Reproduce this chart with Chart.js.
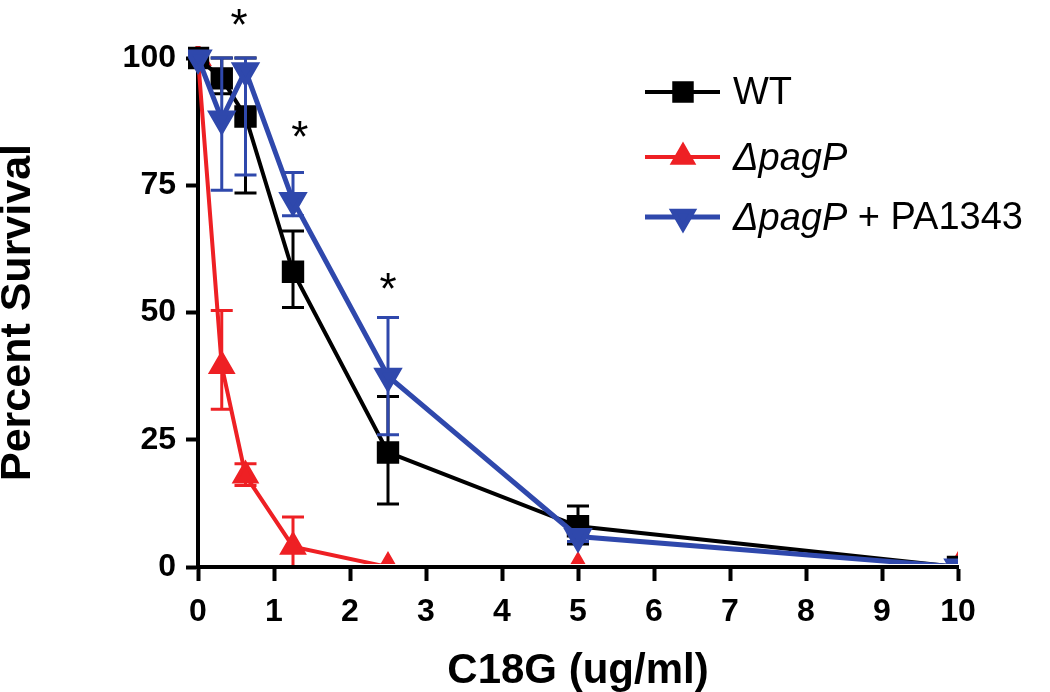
<html>
<head>
	<script src="https://cdn.jsdelivr.net/npm/chart.js@4.4.1/dist/chart.umd.min.js"></script>
	<style>
		body { margin: 0; background: #fff; }
	</style>
</head>
<body>
	<canvas id="myChart" width="1050" height="692"></canvas>
</body>
<script>

// doses of C18G (ug/ml)
const doses = [0, 0.3125, 0.625, 1.25, 2.5, 5, 10];

// WT
const wtMean = [100, 96, 88.5, 58, 22.5, 8, 0];
const wtHi   = [100, 100, 100, 66, 33.5, 12, 0];
const wtLo   = [100, 93, 73.5, 51, 12.4, 4.5, 0];

// delta pagP
const pagMean = [100, 39.5, 18, 4, 0, 0, 0];
const pagHi   = [100, 50.4, 20.3, 9.8, 0, 0, 0];
const pagLo   = [100, 31, 16, 0, 0, 0, 0];

// delta pagP + PA1343
const compMean = [100, 88, 97.5, 72, 37.5, 6, 0];
const compHi   = [100, 100, 100, 77.5, 49, 7, 0];
const compLo   = [100, 74, 77, 69, 26, 5, 0];

// significance stars (x in ug/ml, y in percent)
const starX = [0.54, 1.34, 2.5];
const starY = [108.4, 86.4, 56.6];

const yTicks = [0, 25, 50, 75, 100];

const FONT = '"Liberation Sans", Arial, sans-serif';
Chart.defaults.font.family = FONT;
Chart.defaults.color = '#000';

function pts(ys) {
  return doses.map((d, i) => ({x: d, y: ys[i]}));
}

const markClip = {left: 10, top: 12, right: 0, bottom: -3};

const data = {
  datasets: [
    {
      label: 'ΔpagP + PA1343',
      data: pts(compMean),
      errHi: compHi, errLo: compLo,
      borderColor: 'rgb(47, 72, 172)',
      backgroundColor: 'rgb(47, 72, 172)',
      borderWidth: 5,
      pointStyle: 'triangle',
      pointRotation: 180,
      pointRadius: 12,
      clip: markClip,
      order: 0
    },
    {
      label: 'WT',
      data: pts(wtMean),
      errHi: wtHi, errLo: wtLo,
      borderColor: '#000',
      backgroundColor: '#000',
      borderWidth: 4,
      pointStyle: 'rect',
      pointRadius: 13,
      clip: markClip,
      order: 1
    },
    {
      label: 'ΔpagP',
      data: pts(pagMean),
      errHi: pagHi, errLo: pagLo,
      borderColor: 'rgb(238, 32, 36)',
      backgroundColor: 'rgb(238, 32, 36)',
      borderWidth: 4,
      pointStyle: 'triangle',
      pointRadius: 12,
      clip: markClip,
      order: 2
    }
  ]
};

// legend rows: dataset index + text pieces [text, italic]
const legendOrder = [1, 2, 0];
const legendText = [
  [['WT', false]],
  [['ΔpagP', true]],
  [['ΔpagP', true], [' + PA1343', false]]
];

const errorBars = {
  id: 'errorBars',
  beforeDatasetDraw(chart, args) {
    const ds = chart.data.datasets[args.index];
    const ctx = chart.ctx, xs = chart.scales.x, ys = chart.scales.y;
    ctx.save();
    ctx.strokeStyle = ds.borderColor;
    ctx.lineWidth = 3;
    ds.data.forEach((p, i) => {
      const px = xs.getPixelForValue(p.x);
      const hi = ys.getPixelForValue(ds.errHi[i]);
      const lo = ys.getPixelForValue(ds.errLo[i]);
      if (Math.abs(hi - lo) < 1) return;
      ctx.beginPath();
      ctx.moveTo(px, hi); ctx.lineTo(px, lo);
      ctx.moveTo(px - 11, hi); ctx.lineTo(px + 11, hi);
      if (ds.errLo[i] > 0) { ctx.moveTo(px - 11, lo); ctx.lineTo(px + 11, lo); }
      ctx.stroke();
    });
    ctx.restore();
  }
};

const extras = {
  id: 'extras',
  afterDraw(chart) {
    const ctx = chart.ctx, xs = chart.scales.x, ys = chart.scales.y;
    ctx.save();
    // stars
    ctx.fillStyle = '#000';
    ctx.font = '44px ' + FONT;
    ctx.textAlign = 'center';
    ctx.textBaseline = 'alphabetic';
    starX.forEach((sx, i) => {
      ctx.fillText('*', xs.getPixelForValue(sx), ys.getPixelForValue(starY[i]) + 25);
    });
    // legend
    const rows = [92, 157, 217];
    ctx.textAlign = 'left';
    ctx.textBaseline = 'middle';
    legendOrder.forEach((di, r) => {
      const ds = chart.data.datasets[di];
      const y = rows[r];
      ctx.strokeStyle = ds.borderColor;
      ctx.fillStyle = ds.backgroundColor;
      ctx.lineWidth = ds.borderWidth;
      ctx.beginPath(); ctx.moveTo(645, y); ctx.lineTo(720, y); ctx.stroke();
      Chart.helpers.drawPoint(ctx, {pointStyle: ds.pointStyle, rotation: ds.pointRotation || 0,
        radius: ds.pointRadius * 0.95, borderWidth: 1}, 683, y);
      let x = 733;
      ctx.fillStyle = '#000';
      legendText[r].forEach(([t, it]) => {
        ctx.font = (it ? 'italic ' : '') + '38px ' + FONT;
        ctx.fillText(t, x, y + 2);
        x += ctx.measureText(t).width;
      });
    });
    ctx.restore();
  }
};

const axisFont = {size: 32, weight: 'bold'};

const config = {
  type: 'scatter',
  data: data,
  options: {
    responsive: false,
    animation: false,
    showLine: true,
    layout: { padding: {top: 58, right: 92, left: 0, bottom: 0} },
    plugins: {
      legend: { display: false },
      tooltip: { enabled: false }
    },
    scales: {
      x: {
        type: 'linear', min: 0, max: 10,
        ticks: { stepSize: 1, font: axisFont, color: '#000', padding: 12 },
        grid: { drawOnChartArea: false, tickLength: 14, tickWidth: 4, color: '#000', tickColor: '#000' },
        border: { color: '#000', width: 4, z: 1 },
        title: { display: true, text: 'C18G (ug/ml)', color: '#000',
          font: {size: 42, weight: 'bold', lineHeight: 1.0}, padding: 0 },
        afterFit(s) { s.height = 692 - 567; }
      },
      y: {
        min: 0, max: 100,
        afterBuildTicks(s) { s.ticks = yTicks.map(v => ({value: v})); },
        ticks: { font: axisFont, color: '#000', padding: 10 },
        grid: { drawOnChartArea: false, tickLength: 12, tickWidth: 4, color: '#000', tickColor: '#000' },
        border: { color: '#000', width: 4 },
        title: { display: true, text: 'Percent Survival', color: '#000',
          font: {size: 43, weight: 'bold', lineHeight: 0.85}, padding: 0 },
        afterFit(s) { s.width = 198; }
      }
    }
  },
  plugins: [errorBars, extras]
};

var ctx = document.getElementById('myChart');
var myChart = new Chart(ctx, config);

</script>
</html>
